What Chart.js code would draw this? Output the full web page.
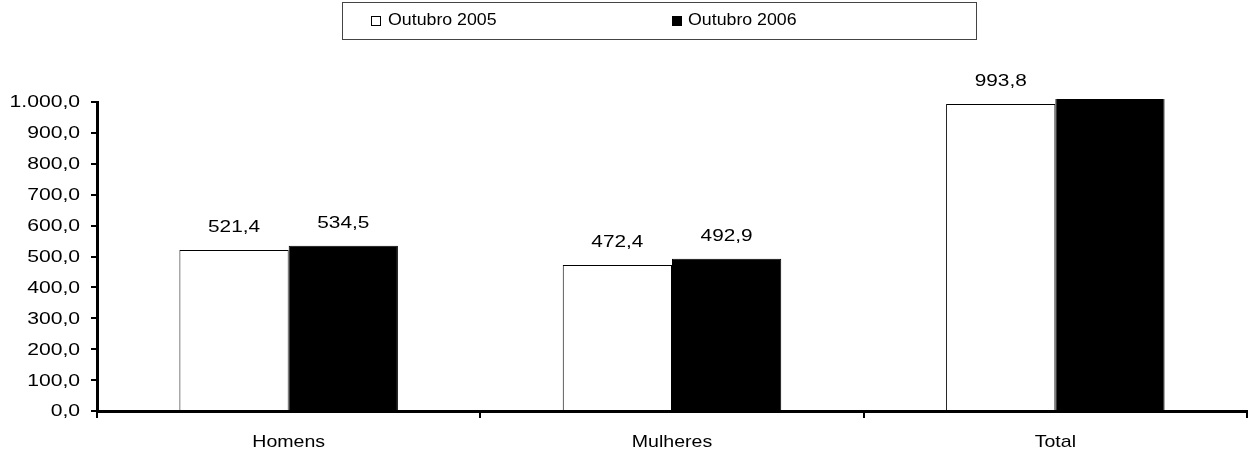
<!DOCTYPE html>
<html>
<head>
<meta charset="utf-8">
<script src="https://cdn.jsdelivr.net/npm/chart.js@4.4.1/dist/chart.umd.min.js"></script>
<style>
  html, body { margin: 0; padding: 0; background: #fff; }
  #wrap { position: relative; width: 1252px; height: 453px; }
  #legend {
    position: absolute; left: 342px; top: 2px; width: 633px; height: 36px;
    border: 1px solid #444; font-family: 'Liberation Sans', Arial, sans-serif;
    font-size: 16px; color: #000;
  }
  .sw { position: absolute; top: 13px; width: 8px; height: 8px; border: 1px solid #000; }
  .txt { position: absolute; top: 8px; transform: scaleX(1.11); transform-origin: left center; white-space: nowrap; }
</style>
</head>
<body>
<div id="wrap">
  <canvas id="chart" width="1252" height="453"></canvas>
  <div id="legend">
    <span class="sw" style="left:28px;background:#fff"></span><span class="txt" style="left:45px">Outubro 2005</span>
    <span class="sw" style="left:329px;background:#000"></span><span class="txt" style="left:345px">Outubro 2006</span>
  </div>
</div>
<script>
// --- Data ---
const categories = ['Homens', 'Mulheres', 'Total'];
const out2005 = [521.4, 472.4, 993.8];
const out2006 = [534.5, 492.9, 1027.4];
const yMax = 1000;
const yStep = 100;

const FAMILY = '"Liberation Sans", Arial, sans-serif';

// pt-BR style number: 1.000,0
function fmt(v) {
  const parts = v.toFixed(1).split('.');
  const int = parts[0].replace(/\B(?=(\d{3})+(?!\d))/g, '.');
  return int + ',' + parts[1];
}

// the original rendering has wide, horizontally stretched glyphs
function stretchedText(ctx, text, x, y, align, sx) {
  ctx.save();
  ctx.translate(x, y);
  ctx.scale(sx, 1);
  ctx.textAlign = align;
  ctx.fillText(text, 0, 0);
  ctx.restore();
}

const textLayer = {
  id: 'textLayer',
  afterDraw(chart) {
    const ctx = chart.ctx;
    ctx.save();
    ctx.fillStyle = '#000';

    // y tick labels
    ctx.font = '16px ' + FAMILY;
    ctx.textBaseline = 'middle';
    const ys = chart.scales.y;
    ys.ticks.forEach(t => {
      stretchedText(ctx, fmt(t.value), 80, ys.getPixelForValue(t.value) + 1, 'right', 1.32);
    });

    // category labels
    ctx.font = '17px ' + FAMILY;
    ctx.textBaseline = 'alphabetic';
    const xs = chart.scales.x;
    categories.forEach((c, i) => {
      stretchedText(ctx, xs.getLabelForValue(i), xs.getPixelForValue(i), 447, 'center', 1.15);
    });

    // value labels (the clipped one is not shown)
    ctx.font = '16px ' + FAMILY;
    chart.data.datasets.forEach((ds, i) => {
      chart.getDatasetMeta(i).data.forEach((bar, j) => {
        if (ds.data[j] > yMax) return;
        stretchedText(ctx, fmt(ds.data[j]), bar.x, bar.y - 18, 'center', 1.3);
      });
    });
    ctx.restore();
  }
};

new Chart(document.getElementById('chart').getContext('2d'), {
  type: 'bar',
  data: {
    labels: categories,
    datasets: [
      { label: 'Outubro 2005', data: out2005, backgroundColor: '#fff', borderColor: '#000', borderWidth: 1 },
      { label: 'Outubro 2006', data: out2006, backgroundColor: '#000', borderColor: '#000', borderWidth: 1,
        clip: { top: 3, left: 0, right: 0, bottom: 0 } }
    ]
  },
  options: {
    responsive: false,
    animation: false,
    layout: { padding: { top: 102, right: 5, left: 0, bottom: 0 } },
    plugins: { legend: { display: false }, tooltip: { enabled: false } },
    datasets: { bar: { barPercentage: 1, categoryPercentage: 0.57 } },
    scales: {
      x: {
        grid: { offset: true, drawOnChartArea: false, drawTicks: true, tickLength: 7, color: '#000', lineWidth: 2 },
        border: { color: '#000', width: 3 },
        ticks: { display: false },
        afterFit(scale) { scale.height = 42; }
      },
      y: {
        min: 0, max: yMax,
        grid: { drawOnChartArea: false, drawTicks: true, tickLength: 6, color: '#000', lineWidth: 2 },
        border: { color: '#000', width: 3 },
        ticks: { display: false, stepSize: yStep },
        afterFit(scale) { scale.width = 97; }
      }
    }
  },
  plugins: [textLayer]
});
</script>
</body>
</html>
